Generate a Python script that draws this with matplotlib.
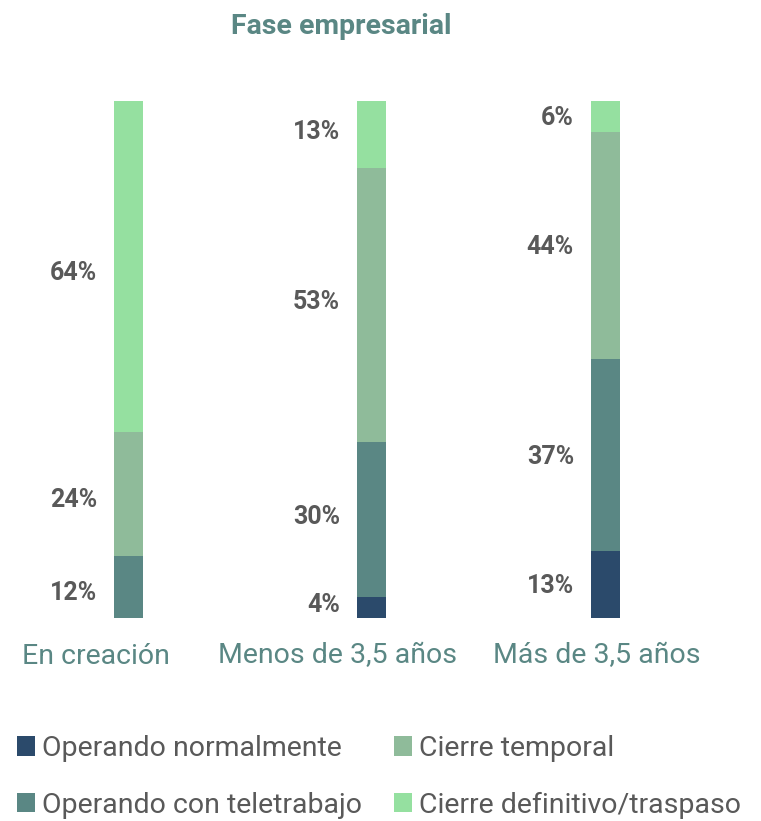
import matplotlib.pyplot as plt
import numpy as np
from matplotlib.patches import Patch

plt.rcParams['font.family'] = ['Roboto', 'DejaVu Sans']

categorias = ['En creación', 'Menos de 3,5 años', 'Más de 3,5 años']
series = ['Operando normalmente', 'Operando con teletrabajo', 'Cierre temporal', 'Cierre definitivo/traspaso']
normal = [0, 4, 13]
teletrabajo = [12, 30, 37]
temporal = [24, 53, 44]
definitivo = [64, 13, 6]
colores = ['#2B4A6B', '#5A8784', '#8FBB9A', '#95E0A0']

texto = '#595959'
teal = '#5A8784'

fig = plt.figure(figsize=(7.61, 8.21), dpi=100)
# axes spans the bar area (pixels 101..618 vertically)
ax = fig.add_axes([0, (821 - 618) / 821, 1, 517 / 821])
ax.set_xlim(0, 761)
ax.set_ylim(0, 100)
ax.axis('off')

xpos = np.array([128.5, 371.5, 605.5])
ancho = 29
desfase = [-1.2, 0.6, -0.3]  # small vertical nudge of labels per bar
bottom = np.zeros(3)
for vals, col in zip([normal, teletrabajo, temporal, definitivo], colores):
    vals = np.array(vals, dtype=float)
    ax.bar(xpos, vals, ancho, bottom=bottom, color=col, linewidth=0)
    for x, b, v, d in zip(xpos, bottom, vals, desfase):
        if v > 0:
            ax.text(x - ancho / 2 - 17, b + v / 2 + d, f'{int(v)}%', ha='right', va='center',
                    fontsize=18, fontweight='bold', color=texto)
    bottom += vals

fig.text(341 / 761, 1 - 26 / 821, 'Fase empresarial', ha='center', va='center',
         fontsize=20.5, fontweight='bold', color=teal)

cat_x = [96, 338, 597]
for cx, c in zip(cat_x, categorias):
    fig.text(cx / 761, 1 - 656 / 821, c, ha='center', va='center', fontsize=20.5, color=teal)

handles = [Patch(facecolor=c, edgecolor='none') for c in colores]
fig.legend(handles, series, loc='upper left', bbox_to_anchor=(0.022, 1 - 735 / 821), ncol=2,
           frameon=False, fontsize=20.5, labelcolor=texto, handlelength=0.65, handleheight=0.65,
           handletextpad=0.25, columnspacing=1.1, labelspacing=1.05, borderaxespad=0,
           borderpad=0)

fig.savefig('out.png', dpi=100)
